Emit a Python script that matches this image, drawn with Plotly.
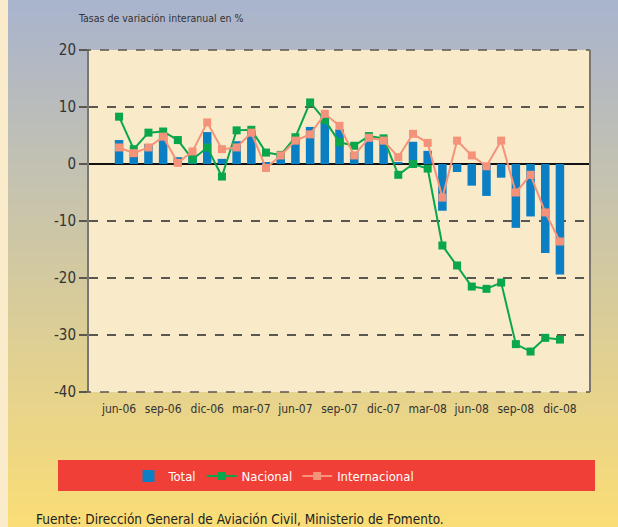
import plotly.graph_objects as go

months = ["jun-06", "jul-06", "ago-06", "sep-06", "oct-06", "nov-06", "dic-06",
          "ene-07", "feb-07", "mar-07", "abr-07", "may-07", "jun-07", "jul-07",
          "ago-07", "sep-07", "oct-07", "nov-07", "dic-07",
          "ene-08", "feb-08", "mar-08", "abr-08", "may-08", "jun-08", "jul-08",
          "ago-08", "sep-08", "oct-08", "nov-08", "dic-08"]

total = [4.2, 1.9, 3.5, 5.2, 1.2, 1.7, 5.6, 0.9, 4.0, 5.8, 0.2, 1.8, 4.3, 6.5,
         8.3, 6.1, 2.1, 4.3, 4.2, 0.3, 3.9, 2.3, -8.2, -1.4, -3.8, -5.6,
         -2.4, -11.2, -9.2, -15.6, -19.4]

nacional = [8.3, 2.6, 5.5, 5.7, 4.2, 0.8, 2.9, -2.2, 5.9, 6.0, 2.0, 1.6, 4.7, 10.8,
            7.7, 3.8, 3.2, 4.9, 4.5, -1.9, 0.0, -0.8, -14.3, -17.8, -21.5, -21.9,
            -20.8, -31.6, -32.9, -30.5, -30.8]

internacional = [2.9, 1.9, 2.9, 4.8, 0.2, 2.2, 7.3, 2.6, 2.9, 5.5, -0.7, 1.5, 4.1, 5.2,
                 8.8, 6.7, 1.5, 4.6, 4.1, 1.2, 5.3, 3.7, -5.9, 4.1, 1.5, -0.4,
                 4.1, -5.0, -1.9, -8.5, -13.6]

tick_labels = months[::3]
y_ticks = [-40, -30, -20, -10, 0, 10, 20]
y_tick_labels = ["-40", "-30", "-20", "-10", "0", "10", "20"]

FONT = "DejaVu Sans Condensed, Liberation Sans Narrow, Noto Sans, sans-serif"

W, H = 618, 527
L, R, T, B = 89, 590, 50, 392
pw, ph = R - L, B - T


def px_x(x):
    return (x - L) / pw


def px_y(y):
    return (B - y) / ph


fig = go.Figure()
fig.add_trace(go.Bar(x=months, y=total, name="Total",
                     marker=dict(color="#0a7fc3", line=dict(width=0))))
fig.add_trace(go.Scatter(x=months, y=nacional, name="Nacional", mode="lines+markers",
                         line=dict(color="#0aa64c", width=2),
                         marker=dict(symbol="square", size=8, color="#0aa64c")))
fig.add_trace(go.Scatter(x=months, y=internacional, name="Internacional",
                         mode="lines+markers",
                         line=dict(color="#f4937a", width=2),
                         marker=dict(symbol="square", size=8, color="#f4937a")))

shapes = []
# gradient background
top_c = (169, 180, 205)
bot_c = (250, 221, 118)
n = 90
for i in range(n):
    f = i / (n - 1)
    c = tuple(int(round(top_c[k] + (bot_c[k] - top_c[k]) * f)) for k in range(3))
    y0 = i * H / n
    y1 = (i + 1) * H / n + 0.8
    shapes.append(dict(type="rect", xref="paper", yref="paper", layer="below",
                       x0=px_x(0), x1=px_x(W), y0=px_y(y0), y1=px_y(y1),
                       fillcolor="rgb(%d,%d,%d)" % c, line=dict(width=0)))
# left cream strip
shapes.append(dict(type="rect", xref="paper", yref="paper", layer="below",
                   x0=px_x(0), x1=px_x(8), y0=px_y(0), y1=px_y(H),
                   fillcolor="#faecca", line=dict(width=0)))
# plot area background
shapes.append(dict(type="rect", xref="paper", yref="paper", layer="below",
                   x0=0, x1=1, y0=0, y1=1, fillcolor="#f9ebca", line=dict(width=0)))
# top / bottom dashed frame lines (grid at 20 and -40)
for yy in (0, 1):
    shapes.append(dict(type="line", xref="paper", yref="paper", layer="above",
                       x0=px_x(82), x1=1, y0=yy, y1=yy,
                       line=dict(color="#5a5650", width=1.5, dash="dash")))
# right border
shapes.append(dict(type="line", xref="paper", yref="paper", layer="above",
                   x0=1, x1=1, y0=0, y1=1, line=dict(color="#7a7670", width=2)))
# legend box
shapes.append(dict(type="rect", xref="paper", yref="paper", layer="below",
                   x0=px_x(58), x1=px_x(595), y0=px_y(460), y1=px_y(491),
                   fillcolor="#ef3f36", line=dict(width=0)))

fig.update_layout(
    width=W, height=H,
    margin=dict(l=L, r=W - R, t=T, b=H - B),
    paper_bgcolor="#f9ebca",
    plot_bgcolor="rgba(0,0,0,0)",
    bargap=0.42,
    shapes=shapes,
    font=dict(family=FONT, color="#333333"),
    showlegend=True,
    legend=dict(orientation="h", x=px_x(274), xanchor="center",
                y=px_y(476), yanchor="middle", bgcolor="rgba(0,0,0,0)",
                font=dict(family=FONT, size=13, color="white"),
                itemwidth=30, tracegroupgap=0),
    annotations=[
        dict(text="Tasas de variación interanual en %", xref="paper", yref="paper",
             x=px_x(76), y=px_y(18), xanchor="left", yanchor="middle",
             showarrow=False, font=dict(family=FONT, size=10.5, color="#333333")),
        dict(text="Fuente: Dirección General de Aviación Civil, Ministerio de Fomento.",
             xref="paper", yref="paper", x=px_x(34), y=px_y(519),
             xanchor="left", yanchor="middle", showarrow=False,
             font=dict(family=FONT, size=13.5, color="#222222")),
    ],
)

fig.update_xaxes(type="category", tickmode="array", tickvals=tick_labels,
                 ticktext=tick_labels, showgrid=False, ticks="", showline=False,
                 tickfont=dict(family=FONT, size=12, color="#333333"),
                 ticklabelstandoff=8, zeroline=False)
fig.update_yaxes(range=[-40, 20], tickmode="array", tickvals=y_ticks,
                 ticktext=y_tick_labels, showgrid=True, gridcolor="#5a5650",
                 griddash="dash", gridwidth=1.5, zeroline=True, zerolinecolor="#111111",
                 zerolinewidth=2, showline=True, linecolor="#7a7670", linewidth=2,
                 ticks="outside", ticklen=8, tickcolor="#5a5650", tickwidth=1.5,
                 tickfont=dict(family=FONT, size=15, color="#333333"))

fig.write_html("out.html", config={"displayModeBar": False},
               post_script="document.body.style.margin='0';"
                           "document.body.style.overflow='hidden';")
